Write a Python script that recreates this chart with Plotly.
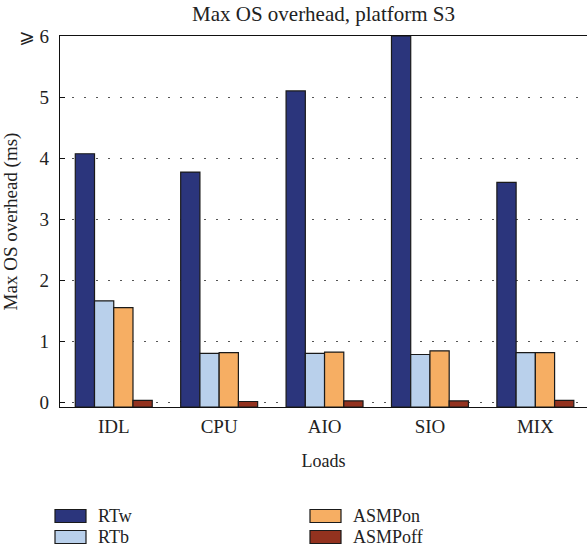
import plotly.graph_objects as go

# ---- data ----
loads = ["IDL", "CPU", "AIO", "SIO", "MIX"]
series_names = ["RTw", "RTb", "ASMPon", "ASMPoff"]
rtw = [4.07, 3.77, 5.10, 6.00, 3.60]
rtb = [1.66, 0.80, 0.80, 0.78, 0.81]
asmp_on = [1.55, 0.81, 0.82, 0.84, 0.81]
asmp_off = [0.03, 0.01, 0.02, 0.02, 0.03]
y_tick_vals = [0, 1, 2, 3, 4, 5, 6]
y_tick_text = ["0", "1", "2", "3", "4", "5", "\u2a7e 6"]

# ---- style ----
colors = ["#2B357C", "#B9D0EB", "#F6AE63", "#93321F"]
FONT = "Liberation Serif"
TXT = "#222222"
Y_MIN = -0.08
W, H = 587, 550
ML, MR, MT, MB = 60, 0, 36, 143
PW, PH = W - ML - MR, H - MT - MB

def px_x(px):
    return (px - ML) / PW

def px_y(py):
    return (H - MB - py) / PH

fig = go.Figure()
for name, vals, col in zip(series_names, [rtw, rtb, asmp_on, asmp_off], colors):
    fig.add_trace(go.Bar(
        x=loads, y=[v - Y_MIN for v in vals], base=Y_MIN, name=name,
        marker=dict(color=col, line=dict(color="#1a1a1a", width=1.2)),
        showlegend=False, customdata=vals,
        hovertemplate="%{x}: %{customdata}<extra>" + name + "</extra>",
    ))

fig.update_layout(
    width=W, height=H,
    margin=dict(l=ML, r=MR, t=MT, b=MB),
    paper_bgcolor="white", plot_bgcolor="white",
    font=dict(family=FONT, size=19, color=TXT),
    barmode="group", bargap=0.27, bargroupgap=0,
    title=dict(text="Max OS overhead, platform S3", x=0.5, xref="paper",
               y=1 - 14 / H, yref="container", xanchor="center", yanchor="middle",
               font=dict(family=FONT, size=21, color=TXT)),
    xaxis=dict(
        type="category", range=[-0.51, 4.49], automargin=False,
        showline=True, linecolor="#111", linewidth=1.2, mirror=True,
        ticks="", tickfont=dict(size=19), ticklabelstandoff=2,
        title=dict(text="Loads", font=dict(size=18), standoff=18),
        showgrid=False, zeroline=False,
    ),
    xaxis2=dict(
        type="category", overlaying="x", side="top", anchor="y",
        range=[-0.51, 4.49], tickvals=loads, ticks="inside", ticklen=6,
        tickcolor="#111", tickwidth=1.2, showticklabels=False,
        showline=False, showgrid=False, zeroline=False,
        categoryarray=loads, categoryorder="array",
    ),
    yaxis=dict(
        range=[Y_MIN, 6], tickvals=y_tick_vals, ticktext=y_tick_text,
        automargin=False,
        ticks="inside", ticklen=5, tickcolor="#111", tickwidth=1.2,
        showline=True, linecolor="#111", linewidth=1.2,
        showgrid=True, gridcolor="#555555", gridwidth=1, griddash="2px,10px",
        zeroline=False, tickfont=dict(size=19), ticklabelstandoff=6,
        title=dict(text="Max OS overhead (ms)", font=dict(size=19), standoff=6),
    ),
    yaxis2=dict(
        range=[Y_MIN, 6], overlaying="y", side="right", anchor="x",
        tickvals=y_tick_vals, ticks="inside", ticklen=5, tickcolor="#111",
        tickwidth=1.2, showticklabels=False, showline=False,
        showgrid=False, zeroline=False,
    ),
)

# ---- legend (two columns, drawn as swatches + text) ----
legend_cols = [55, 310]
legend_rows = [516, 537]
sw_w, sw_h = 31, 13
for i, (name, col) in enumerate(zip(series_names, colors)):
    cx = legend_cols[i // 2]
    cy = legend_rows[i % 2]
    fig.add_shape(type="rect", xref="paper", yref="paper",
                  x0=px_x(cx), x1=px_x(cx + sw_w),
                  y0=px_y(cy - sw_h / 2), y1=px_y(cy + sw_h / 2),
                  fillcolor=col, line=dict(color="#1a1a1a", width=1.2))
    fig.add_annotation(text=name, xref="paper", yref="paper",
                       x=px_x(cx + sw_w + 10), y=px_y(cy),
                       xanchor="left", yanchor="middle", showarrow=False,
                       font=dict(family=FONT, size=18, color=TXT))

fig.write_html(
    "out.html",
    config={"displayModeBar": False},
    post_script="document.body.style.margin='0';document.body.style.overflow='hidden';",
)
